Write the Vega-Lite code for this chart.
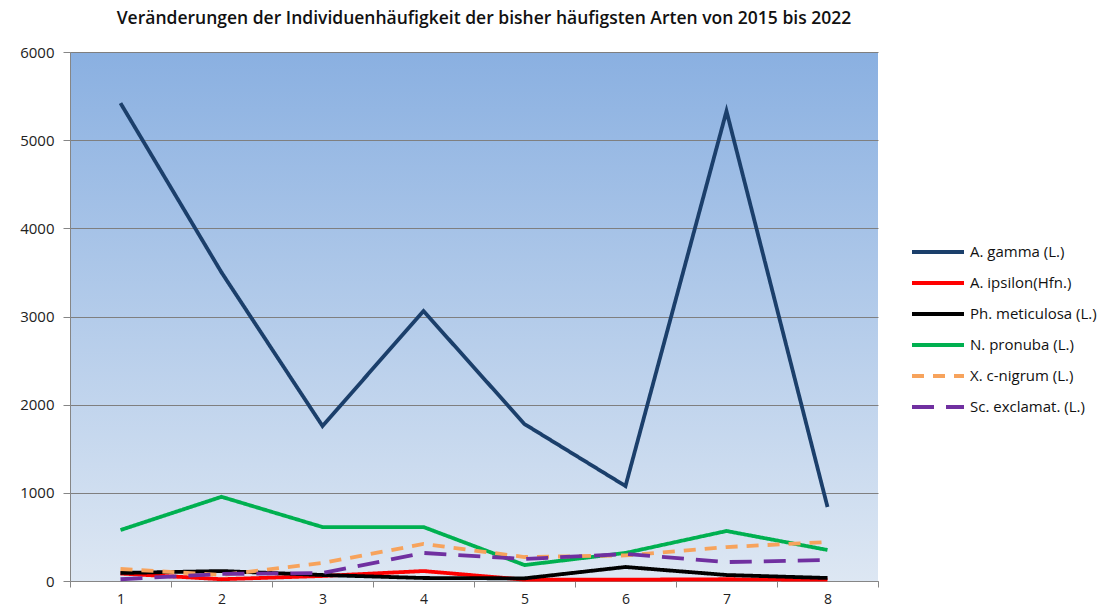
{
  "$schema": "https://vega.github.io/schema/vega-lite/v6.json",
  "autosize": "none",
  "width": 808,
  "height": 529,
  "padding": {"left": 70, "top": 52, "right": 240, "bottom": 29},
  "title": {
    "text": "Veränderungen der Individuenhäufigkeit  der bisher häufigsten  Arten von 2015 bis 2022",
    "font": "Open Sans",
    "fontSize": 17.5,
    "fontWeight": 600,
    "color": "#111111",
    "anchor": "middle",
    "frame": "group",
    "offset": 18,
    "dx": 10
  },
  "data": {
    "values": [
      {"jahr": "1", "art": "A. gamma (L.)", "n": 5420},
      {"jahr": "2", "art": "A. gamma (L.)", "n": 3500},
      {"jahr": "3", "art": "A. gamma (L.)", "n": 1758},
      {"jahr": "4", "art": "A. gamma (L.)", "n": 3062},
      {"jahr": "5", "art": "A. gamma (L.)", "n": 1780},
      {"jahr": "6", "art": "A. gamma (L.)", "n": 1077},
      {"jahr": "7", "art": "A. gamma (L.)", "n": 5330},
      {"jahr": "8", "art": "A. gamma (L.)", "n": 840},
      {"jahr": "1", "art": "A. ipsilon(Hfn.)", "n": 85},
      {"jahr": "2", "art": "A. ipsilon(Hfn.)", "n": 20},
      {"jahr": "3", "art": "A. ipsilon(Hfn.)", "n": 57},
      {"jahr": "4", "art": "A. ipsilon(Hfn.)", "n": 113},
      {"jahr": "5", "art": "A. ipsilon(Hfn.)", "n": 15},
      {"jahr": "6", "art": "A. ipsilon(Hfn.)", "n": 15},
      {"jahr": "7", "art": "A. ipsilon(Hfn.)", "n": 20},
      {"jahr": "8", "art": "A. ipsilon(Hfn.)", "n": 15},
      {"jahr": "1", "art": "Ph. meticulosa (L.)", "n": 91},
      {"jahr": "2", "art": "Ph. meticulosa (L.)", "n": 113},
      {"jahr": "3", "art": "Ph. meticulosa (L.)", "n": 68},
      {"jahr": "4", "art": "Ph. meticulosa (L.)", "n": 34},
      {"jahr": "5", "art": "Ph. meticulosa (L.)", "n": 30},
      {"jahr": "6", "art": "Ph. meticulosa (L.)", "n": 159},
      {"jahr": "7", "art": "Ph. meticulosa (L.)", "n": 68},
      {"jahr": "8", "art": "Ph. meticulosa (L.)", "n": 34},
      {"jahr": "1", "art": "N. pronuba (L.)", "n": 578},
      {"jahr": "2", "art": "N. pronuba (L.)", "n": 955},
      {"jahr": "3", "art": "N. pronuba (L.)", "n": 612},
      {"jahr": "4", "art": "N. pronuba (L.)", "n": 612},
      {"jahr": "5", "art": "N. pronuba (L.)", "n": 181},
      {"jahr": "6", "art": "N. pronuba (L.)", "n": 318},
      {"jahr": "7", "art": "N. pronuba (L.)", "n": 567},
      {"jahr": "8", "art": "N. pronuba (L.)", "n": 352},
      {"jahr": "1", "art": "X. c-nigrum (L.)", "n": 136},
      {"jahr": "2", "art": "X. c-nigrum (L.)", "n": 68},
      {"jahr": "3", "art": "X. c-nigrum (L.)", "n": 204},
      {"jahr": "4", "art": "X. c-nigrum (L.)", "n": 420},
      {"jahr": "5", "art": "X. c-nigrum (L.)", "n": 272},
      {"jahr": "6", "art": "X. c-nigrum (L.)", "n": 290},
      {"jahr": "7", "art": "X. c-nigrum (L.)", "n": 385},
      {"jahr": "8", "art": "X. c-nigrum (L.)", "n": 442},
      {"jahr": "1", "art": "Sc. exclamat. (L.)", "n": 20},
      {"jahr": "2", "art": "Sc. exclamat. (L.)", "n": 80},
      {"jahr": "3", "art": "Sc. exclamat. (L.)", "n": 90},
      {"jahr": "4", "art": "Sc. exclamat. (L.)", "n": 318},
      {"jahr": "5", "art": "Sc. exclamat. (L.)", "n": 250},
      {"jahr": "6", "art": "Sc. exclamat. (L.)", "n": 306},
      {"jahr": "7", "art": "Sc. exclamat. (L.)", "n": 215},
      {"jahr": "8", "art": "Sc. exclamat. (L.)", "n": 238}
    ]
  },
  "mark": {"type": "line", "strokeWidth": 3.8, "strokeCap": "butt"},
  "encoding": {
    "x": {
      "field": "jahr",
      "type": "ordinal",
      "scale": {"type": "band", "paddingInner": 0, "paddingOuter": 0},
      "axis": {
        "title": null,
        "labelAngle": 0,
        "tickBand": "extent",
        "grid": false,
        "ticks": true,
        "tickSize": 6,
        "tickColor": "#868686",
        "domainColor": "#868686",
        "labelFont": "Open Sans",
        "labelFontSize": 14,
        "labelColor": "#222222",
        "labelPadding": 5
      }
    },
    "y": {
      "field": "n",
      "type": "quantitative",
      "scale": {"domain": [0, 6000], "nice": false},
      "axis": {
        "title": null,
        "format": "d",
        "values": [0, 1000, 2000, 3000, 4000, 5000, 6000],
        "grid": true,
        "gridColor": "#7F7F7F",
        "gridWidth": 1,
        "tickColor": "#868686",
        "tickSize": 7,
        "domainColor": "#868686",
        "labelFont": "Open Sans",
        "labelFontSize": 15,
        "labelColor": "#222222",
        "labelPadding": 9
      }
    },
    "color": {
      "field": "art",
      "type": "nominal",
      "sort": null,
      "scale": {
        "domain": ["A. gamma (L.)", "A. ipsilon(Hfn.)", "Ph. meticulosa (L.)", "N. pronuba (L.)", "X. c-nigrum (L.)", "Sc. exclamat. (L.)"],
        "range": ["#1B3F6B", "#FF0000", "#000000", "#00B050", "#F7A35C", "#7030A0"]
      },
      "legend": {
        "title": null,
        "orient": "none",
        "legendX": 853,
        "legendY": 185,
        "symbolType": "M-2,0H2",
        "symbolSize": 676,
        "symbolStrokeWidth": 4,
        "labelFont": "Open Sans",
        "labelFontSize": 15,
        "labelColor": "#111111",
        "rowPadding": 8,
        "labelOffset": 17,
        "labelLimit": 300
      }
    },
    "strokeDash": {
      "field": "art",
      "type": "nominal",
      "sort": null,
      "scale": {
        "domain": ["A. gamma (L.)", "A. ipsilon(Hfn.)", "Ph. meticulosa (L.)", "N. pronuba (L.)", "X. c-nigrum (L.)", "Sc. exclamat. (L.)"],
        "range": [[1, 0], [1, 0], [1, 0], [1, 0], [12, 9], [22, 12]]
      },
      "legend": null
    }
  },
  "config": {
    "background": "white",
    "view": {
      "stroke": null,
      "fill": {
        "gradient": "linear",
        "x1": 0, "y1": 0, "x2": 0, "y2": 1,
        "stops": [
          {"offset": 0, "color": "#8AB0E1"},
          {"offset": 1, "color": "#DDE7F3"}
        ]
      }
    }
  }
}
